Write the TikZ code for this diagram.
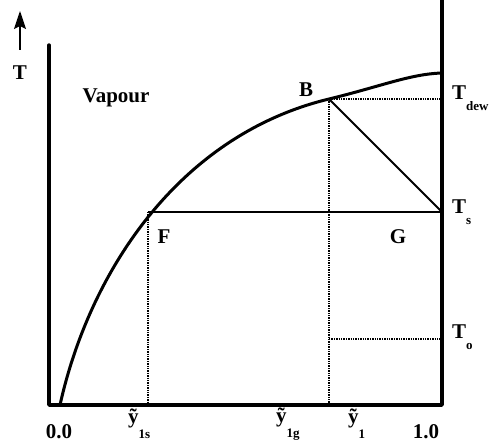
\documentclass[tikz,border=0pt]{standalone}
\usepackage{fontspec}
\setmainfont{Liberation Serif}
\usetikzlibrary{arrows.meta}
\begin{document}
\begin{tikzpicture}[x=1pt,y=-1pt,
  axis/.style={line width=3.4pt,line cap=round,line join=round},
  thick line/.style={line width=2pt},
  dotline/.style={line width=1.4pt,densely dotted},
  lbl/.style={font=\fontsize{21}{23}\selectfont\bfseries,inner sep=0pt}]
\useasboundingbox (0,0) rectangle (497,446);
% coordinates
\coordinate (O) at (49,405);
\coordinate (Otop) at (49,45);
\coordinate (R) at (442,405);
\coordinate (Rtop) at (442,0);
\coordinate (S) at (60,405);
\coordinate (F) at (148,212);
\coordinate (B) at (329,99);
\coordinate (E) at (442,73);
\coordinate (G) at (442,212);
\coordinate (D) at (442,99);
\coordinate (Bb) at (329,405);
\coordinate (Fb) at (148,405);
\coordinate (Ob) at (329,339);
\coordinate (Ot) at (442,339);
\coordinate (Ab) at (20,50);
\coordinate (At) at (20,11);
% axes
\draw[axis] (Otop) -- (O) -- (R) -- (Rtop);
% arrow
\draw[line width=1.6pt,-{Stealth[length=18pt,width=12pt,inset=3pt]}] (Ab) -- (At);
% curve
\draw[line width=3pt] (S) .. controls (90,270) and (180,135) .. (B)
  .. controls (380,86.7) and (410,74) .. (E);
% lines
\draw[thick line] (F) -- (G);
\draw[thick line] (B) -- (G);
% dotted
\draw[dotline] (B) -- (D);
\draw[dotline] (B) -- (Bb);
\draw[dotline] (F) -- (Fb);
\draw[dotline] (Ob) -- (Ot);
% labels
\node[lbl] (Tlab) at (20,73) {T};
\node[lbl] (vap) at (116,98) {Vapour};
\node[lbl] (Blab) at (306,90) {B};
\node[lbl] (Flab) at (164,237) {F};
\node[lbl] (Glab) at (398,237) {G};
\node[lbl,anchor=west] (Tdew) at (452,98) {T\raisebox{-0.55em}{\fontsize{13}{14}\selectfont dew}};
\node[lbl,anchor=west] (Ts) at (452,212) {T\raisebox{-0.5em}{\fontsize{13}{14}\selectfont s}};
\node[lbl,anchor=west] (To) at (452,337) {T\raisebox{-0.5em}{\fontsize{13}{14}\selectfont o}};
\node[lbl] (x0) at (59,432) {0.0};
\node[lbl] (x1) at (426,432) {1.0};
\node[lbl,anchor=west] (y1s) at (128,424) {\~y\raisebox{-0.7em}{\fontsize{13}{14}\selectfont 1s}};
\node[lbl,anchor=west] (y1g) at (276,424) {\~y\raisebox{-0.7em}{\fontsize{13}{14}\selectfont 1g}};
\node[lbl,anchor=west] (y1) at (348,424) {\~y\raisebox{-0.7em}{\fontsize{13}{14}\selectfont 1}};
\end{tikzpicture}
\end{document}
